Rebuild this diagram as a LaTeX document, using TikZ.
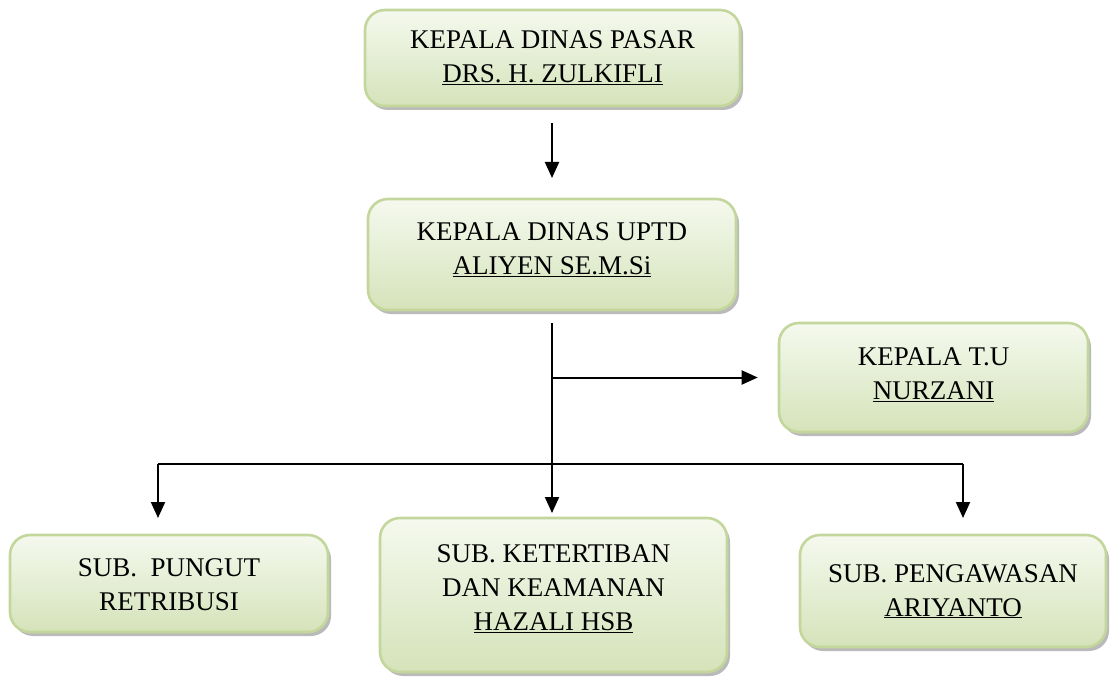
\documentclass[tikz,border=0pt]{standalone}
\usepackage{fontspec}
\setmainfont{Liberation Serif}
\usetikzlibrary{shadows,arrows.meta}
\definecolor{boxborder}{HTML}{C3D69B}
\definecolor{boxtop}{HTML}{F5F9EE}
\definecolor{boxbot}{HTML}{D5E3BA}
\newcommand{\boxlines}[2]{\raisebox{#1}[\height][\depth]{\setlength{\tabcolsep}{0pt}\begin{tabular}{c}#2\end{tabular}}}
\tikzset{
  orgbox/.style={draw=boxborder, line width=2.6pt, rounded corners=20pt,
    top color=boxtop, bottom color=boxbot,
    font=\fontsize{27}{34}\selectfont, inner sep=0pt,
    drop shadow={shadow xshift=3pt, shadow yshift=-4pt, fill=black!45, opacity=0.6}},
  conn/.style={line width=2pt, draw=black},
  arr/.style={conn, -{Triangle[length=16pt,width=14pt]}}
}
\begin{document}
\begin{tikzpicture}[x=1pt,y=-1pt]
\useasboundingbox (0,0) rectangle (1115,679);
\node[orgbox, minimum width=375pt, minimum height=96pt] (kadis) at (552.5,58)
  {\boxlines{-1.1pt}{KEPALA DINAS PASAR\\\underline{DRS. H. ZULKIFLI}}};
\node[orgbox, minimum width=368pt, minimum height=111pt] (uptd) at (552,254.5)
  {\boxlines{4pt}{KEPALA DINAS UPTD\\\underline{ALIYEN SE.M.Si}}};
\node[orgbox, minimum width=309pt, minimum height=109pt] (tu) at (933.5,377.5)
  {\boxlines{1.8pt}{KEPALA T.U\\\underline{NURZANI}}};
\node[orgbox, minimum width=318pt, minimum height=97pt] (pungut) at (169,583.5)
  {\boxlines{-3.2pt}{SUB.\hspace{0.5em}PUNGUT\\RETRIBUSI}};
\node[orgbox, minimum width=347pt, minimum height=154pt] (tertib) at (553.5,595)
  {\boxlines{5.1pt}{SUB. KETERTIBAN\\DAN KEAMANAN\\\underline{HAZALI HSB}}};
\node[orgbox, minimum width=306pt, minimum height=112pt] (awas) at (953,591)
  {\boxlines{-1.2pt}{SUB. PENGAWASAN\\\underline{ARIYANTO}}};
% connectors
\coordinate (s1) at (552,123);
\coordinate (e1) at (552,178);
\draw[arr] (s1) -- (e1);
\coordinate (s2) at (552,323);
\coordinate (jtu) at (552,377.5);
\coordinate (bus) at (552,464);
\coordinate (busl) at (158,464);
\coordinate (busr) at (963,464);
\draw[conn] (s2) -- (bus);
\draw[arr, shorten >=20pt] (jtu) -- (tu.west);
\draw[arr] (bus) -- (552,513);
\draw[conn] (busl) -- (busr);
\draw[arr] (busl) -- (158,518);
\draw[arr] (busr) -- (963,518);
\end{tikzpicture}
\end{document}
